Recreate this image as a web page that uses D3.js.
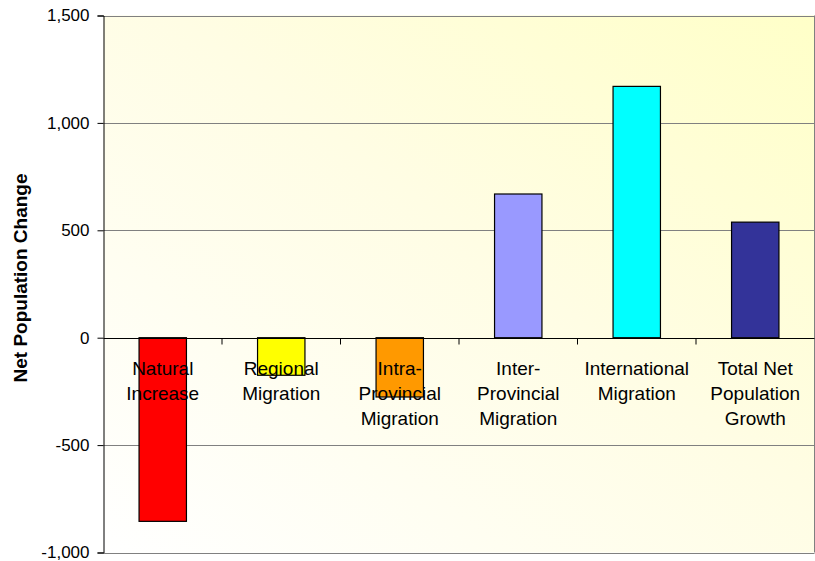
<!DOCTYPE html>
<html>
<head>
<meta charset="utf-8">
<script src="https://cdn.jsdelivr.net/npm/d3@7"></script>
<style>
  html, body { margin: 0; padding: 0; background: #fff; }
  svg { display: block; font-family: "Liberation Sans", Arial, sans-serif; }
</style>
</head>
<body>
<svg id="chart" width="815" height="561"></svg>
<script>
// Components of net population change
const categories = [
  "Natural Increase",
  "Regional Migration",
  "Intra-Provincial Migration",
  "Inter-Provincial Migration",
  "International Migration",
  "Total Net Population Growth"
];
const categoryLines = [
  ["Natural", "Increase"],
  ["Regional", "Migration"],
  ["Intra-", "Provincial", "Migration"],
  ["Inter-", "Provincial", "Migration"],
  ["International", "Migration"],
  ["Total Net", "Population", "Growth"]
];
const values = [-855, -175, -276, 669, 1170, 538];
const barColors = ["#ff0000", "#ffff00", "#ff9900", "#9999ff", "#00ffff", "#333399"];
const yTicks = [-1000, -500, 0, 500, 1000, 1500];
const yTitle = "Net Population Change";

const svg = d3.select("#chart");
const plotLeft = 103.5, plotRight = 814.5, plotTop = 15.5, plotBottom = 552.5;

const x = d3.scaleBand().domain(categories).range([plotLeft, plotRight]).paddingInner(0).paddingOuter(0);
const y = d3.scaleLinear().domain([-1000, 1500]).range([plotBottom, plotTop]);
const fmt = d3.formatLocale({ decimal: ".", thousands: ",", grouping: [3], currency: ["", ""], minus: "-" }).format(",");

// plot background gradient
const defs = svg.append("defs");
const grad = defs.append("linearGradient").attr("id", "bg")
  .attr("x1", "0").attr("y1", "1").attr("x2", "1").attr("y2", "0");
grad.append("stop").attr("offset", "0%").attr("stop-color", "#ffffff");
grad.append("stop").attr("offset", "55%").attr("stop-color", "#fffde4");
grad.append("stop").attr("offset", "100%").attr("stop-color", "#ffffc8");

svg.append("rect")
  .attr("x", plotLeft).attr("y", plotTop)
  .attr("width", plotRight - plotLeft).attr("height", plotBottom - plotTop)
  .attr("fill", "url(#bg)");

// horizontal gridlines
svg.append("g").selectAll("line").data(yTicks.filter(d => d !== 0)).join("line")
  .attr("x1", plotLeft).attr("x2", plotRight)
  .attr("y1", d => Math.round(y(d)) + 0.5).attr("y2", d => Math.round(y(d)) + 0.5)
  .attr("stroke", "#808080").attr("stroke-width", 1);

// right border
svg.append("line")
  .attr("x1", plotRight).attr("x2", plotRight).attr("y1", plotTop).attr("y2", plotBottom)
  .attr("stroke", "#808080").attr("stroke-width", 1);

// bars
const barW = x.bandwidth() * 0.4;
svg.append("g").selectAll("rect").data(values).join("rect")
  .attr("x", (d, i) => x(categories[i]) + x.bandwidth() / 2 - barW / 2)
  .attr("y", d => y(Math.max(0, d)))
  .attr("width", barW)
  .attr("height", d => Math.abs(y(d) - y(0)))
  .attr("fill", (d, i) => barColors[i])
  .attr("stroke", "#000").attr("stroke-width", 1.2);

// y axis
const yAxis = d3.axisLeft(y).tickValues(yTicks).tickFormat(fmt).tickSize(6).tickPadding(8);
const gy = svg.append("g").attr("transform", `translate(${plotLeft},0)`).call(yAxis);
gy.select(".domain").attr("stroke", "#000");
gy.selectAll(".tick line").attr("stroke", "#000");
gy.selectAll(".tick text").attr("font-size", 17).attr("fill", "#000")
  .attr("font-family", "'Liberation Sans', Arial, sans-serif");

// zero baseline with category ticks
const z = Math.round(y(0)) + 0.5;
svg.append("line").attr("x1", plotLeft).attr("x2", plotRight).attr("y1", z).attr("y2", z)
  .attr("stroke", "#000").attr("stroke-width", 1);
svg.append("g").selectAll("line").data(categories.slice(1)).join("line")
  .attr("x1", d => x(d)).attr("x2", d => x(d))
  .attr("y1", z).attr("y2", z + 6)
  .attr("stroke", "#000");

// category labels
const lab = svg.append("g").selectAll("text").data(categoryLines).join("text")
  .attr("text-anchor", "middle")
  .attr("font-size", 19)
  .attr("fill", "#000")
  .attr("transform", (d, i) => `translate(${x(categories[i]) + x.bandwidth() / 2},${y(0) + 37})`);
lab.selectAll("tspan").data(d => d).join("tspan")
  .attr("x", 0).attr("y", (d, j) => j * 25)
  .text(d => d);

// y axis title
svg.append("text")
  .attr("transform", `translate(27,${(plotTop + plotBottom) / 2 - 6}) rotate(-90)`)
  .attr("text-anchor", "middle")
  .attr("font-size", 19).attr("font-weight", "bold").attr("fill", "#000")
  .text(yTitle);
</script>
</body>
</html>
